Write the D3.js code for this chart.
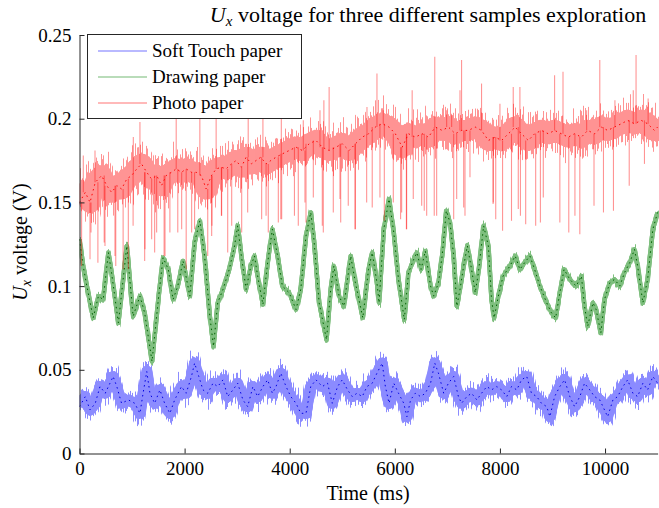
<!DOCTYPE html>
<html>
<head>
<meta charset="utf-8">
<script src="https://cdn.jsdelivr.net/npm/d3@7"></script>
<style>
  body { margin: 0; background: #fff; }
  text { font-family: "Liberation Serif", "DejaVu Serif", serif; }
</style>
</head>
<body>
<div id="chart"></div>
<script>
// ticks
const xTicks = [0, 2000, 4000, 6000, 8000, 10000];
const xTickLabels = ["0", "2000", "4000", "6000", "8000", "10000"];
const yTicks = [0, 0.05, 0.1, 0.15, 0.2, 0.25];
const yTickLabels = ["0", "0.05", "0.1", "0.15", "0.2", "0.25"];

const seriesNames = ["Soft Touch paper", "Drawing paper", "Photo paper"];

// Soft Touch paper (ms / V)
const blueT = [0,110,200,300,390,490,580,640,710,800,930,1050,1150,1210,1280,1340,1430,1530,1620,1720,1810,1940,2030,2130,2190,2270,2350,2440,2540,2630,2730,2820,2920,3010,3110,3200,3300,3390,3490,3580,3670,3740,3830,3930,4020,4120,4210,4310,4400,4500,4620,4720,4810,4910,5000,5100,5190,5280,5380,5470,5570,5660,5760,5820,5890,5980,6070,6170,6230,6300,6390,6490,6580,6680,6760,6830,6930,7020,7120,7210,7270,7370,7460,7560,7650,7750,7840,7940,8030,8130,8220,8320,8410,8510,8600,8700,8790,8890,8950,9040,9140,9230,9330,9420,9520,9610,9710,9800,9900,9990,10050,10150,10240,10340,10430,10530,10620,10720,10810,10910,11000];
const blueV = [0.028,0.034,0.026,0.030,0.040,0.036,0.042,0.046,0.040,0.030,0.032,0.030,0.024,0.036,0.049,0.036,0.030,0.038,0.030,0.024,0.032,0.040,0.036,0.046,0.054,0.046,0.038,0.036,0.042,0.040,0.044,0.034,0.038,0.042,0.032,0.028,0.040,0.034,0.040,0.044,0.036,0.040,0.048,0.040,0.034,0.030,0.024,0.024,0.040,0.044,0.040,0.042,0.030,0.040,0.044,0.038,0.034,0.036,0.034,0.040,0.042,0.048,0.054,0.040,0.030,0.042,0.036,0.030,0.022,0.032,0.036,0.034,0.036,0.042,0.054,0.048,0.036,0.042,0.046,0.034,0.030,0.034,0.036,0.032,0.036,0.040,0.038,0.040,0.038,0.034,0.040,0.038,0.044,0.046,0.036,0.034,0.030,0.028,0.022,0.034,0.040,0.044,0.034,0.028,0.034,0.042,0.038,0.034,0.032,0.026,0.022,0.032,0.034,0.040,0.044,0.036,0.034,0.042,0.038,0.046,0.042];

// Drawing paper
const greenT = [0,70,140,260,360,450,550,610,740,900,1020,1150,1240,1380,1500,1590,1690,1780,1870,1970,2100,2190,2290,2380,2480,2550,2630,2730,2850,2950,3010,3080,3170,3260,3330,3390,3490,3580,3670,3770,3860,3990,4120,4210,4310,4400,4460,4560,4700,4780,4840,4940,5030,5160,5250,5390,5500,5570,5660,5700,5790,5890,5980,6070,6180,6260,6360,6420,6500,6580,6680,6740,6830,6900,6980,7050,7120,7180,7240,7310,7380,7460,7530,7590,7690,7780,7840,7890,7970,8060,8190,8290,8380,8470,8570,8660,8760,8890,8980,9060,9140,9220,9330,9450,9550,9610,9670,9770,9830,9920,9990,10090,10180,10280,10370,10470,10560,10620,10720,10810,10910,11000];
const greenV = [0.128,0.112,0.100,0.081,0.094,0.092,0.120,0.108,0.078,0.124,0.082,0.094,0.084,0.055,0.092,0.117,0.110,0.092,0.100,0.115,0.094,0.126,0.139,0.118,0.082,0.064,0.090,0.098,0.110,0.124,0.136,0.118,0.098,0.112,0.118,0.106,0.089,0.114,0.134,0.118,0.100,0.096,0.086,0.098,0.130,0.144,0.128,0.090,0.068,0.098,0.112,0.094,0.088,0.118,0.102,0.081,0.110,0.120,0.102,0.090,0.134,0.152,0.132,0.104,0.080,0.108,0.116,0.120,0.110,0.121,0.100,0.094,0.102,0.118,0.145,0.138,0.118,0.088,0.098,0.112,0.124,0.110,0.096,0.108,0.136,0.124,0.092,0.081,0.094,0.106,0.112,0.118,0.110,0.114,0.118,0.110,0.100,0.090,0.084,0.081,0.096,0.110,0.104,0.100,0.106,0.088,0.076,0.090,0.086,0.072,0.092,0.102,0.104,0.100,0.108,0.114,0.122,0.112,0.090,0.104,0.134,0.144];

// Photo paper
const redT = [0,110,200,300,420,520,610,710,800,900,990,1090,1180,1280,1370,1470,1560,1650,1750,1840,1940,2030,2130,2220,2320,2410,2510,2600,2700,2790,2890,2980,3080,3170,3270,3360,3450,3550,3640,3740,3860,3990,4120,4240,4370,4500,4620,4750,4880,5000,5130,5250,5380,5500,5630,5760,5890,6010,6140,6260,6390,6520,6640,6770,6900,7020,7150,7270,7400,7530,7650,7780,7910,8030,8160,8290,8410,8540,8660,8790,8920,9040,9170,9300,9420,9550,9670,9800,9930,10050,10180,10310,10430,10560,10690,10810,10940,11000];
const redV = [0.150,0.156,0.150,0.162,0.166,0.160,0.156,0.160,0.158,0.164,0.166,0.170,0.173,0.168,0.164,0.166,0.160,0.166,0.168,0.170,0.168,0.170,0.168,0.168,0.166,0.158,0.166,0.170,0.171,0.170,0.173,0.175,0.171,0.177,0.173,0.175,0.177,0.173,0.175,0.177,0.179,0.181,0.183,0.181,0.185,0.187,0.183,0.181,0.183,0.185,0.181,0.185,0.189,0.191,0.195,0.197,0.195,0.191,0.183,0.191,0.189,0.191,0.189,0.195,0.193,0.195,0.191,0.193,0.193,0.195,0.193,0.187,0.189,0.187,0.191,0.195,0.191,0.187,0.191,0.193,0.191,0.193,0.191,0.189,0.191,0.189,0.193,0.191,0.195,0.193,0.195,0.197,0.199,0.197,0.199,0.197,0.193,0.195];

// Photo paper single-sample spikes
const spikeT = [40,72,200,219,295,350,470,485,675,690,830,929,1020,1024,1150,1240,1246,1373,1430,1468,1610,1627,1720,1840,1870,1944,2030,2134,2190,2290,2440,2515,2520,2600,2700,2705,2820,2896,3086,3200,3210,3466,3490,3550,3592,3783,3830,3840,3847,4090,4163,4258,4290,4310,4449,4576,4620,4639,4650,4750,4829,4956,4970,5114,5242,5250,5464,5470,5570,5660,5717,5780,5800,5971,6110,6130,6220,6225,6330,6351,6511,6560,6606,6750,6760,6796,6986,7081,7120,7177,7240,7270,7310,7335,7430,7650,7870,7873,7920,8000,8050,8220,8253,8349,8380,8390,8490,8680,8770,8825,9040,9140,9200,9310,9427,9520,9650,9790,9900,9970,10160,10188,10460,10537,10590,10750,10820];
const spikeV = [0.112,0.178,0.116,0.132,0.181,0.114,0.126,0.124,0.118,0.112,0.110,0.110,0.136,0.189,0.198,0.115,0.122,0.128,0.120,0.132,0.118,0.118,0.132,0.203,0.132,0.134,0.110,0.132,0.134,0.210,0.118,0.130,0.136,0.208,0.142,0.142,0.120,0.136,0.132,0.144,0.206,0.140,0.204,0.142,0.132,0.138,0.140,0.200,0.140,0.142,0.136,0.199,0.150,0.138,0.153,0.205,0.136,0.132,0.211,0.219,0.144,0.152,0.138,0.148,0.134,0.134,0.150,0.207,0.147,0.227,0.153,0.205,0.139,0.150,0.140,0.144,0.134,0.134,0.217,0.152,0.148,0.145,0.142,0.142,0.237,0.142,0.205,0.202,0.140,0.152,0.217,0.235,0.147,0.142,0.165,0.221,0.149,0.150,0.140,0.209,0.133,0.139,0.219,0.146,0.219,0.142,0.137,0.136,0.138,0.153,0.226,0.138,0.228,0.132,0.142,0.131,0.205,0.148,0.235,0.144,0.145,0.211,0.160,0.217,0.238,0.173,0.212];

const width = 659;
const height = 508;
const margin = { top: 35, right: 1.4, bottom: 54, left: 79.5 };

const svg = d3.select("#chart").append("svg")
  .attr("width", width)
  .attr("height", height);

const x = d3.scaleLinear()
  .domain([0, 11000])
  .range([margin.left, 657.6]);

const y = d3.scaleLinear()
  .domain([0, 0.25])
  .range([453.5, margin.top]);

const defs = svg.append("defs");

defs.append("clipPath")
  .attr("id", "plot-clip")
  .append("rect")
  .attr("x", margin.left)
  .attr("y", 0)
  .attr("width", width - margin.left)
  .attr("height", 453.5);

// streaky edges for the dense noisy traces (vertical jitter per pixel column)
function streakFilter(id, seed, scale) {
  const f = defs.append("filter")
    .attr("id", id)
    .attr("x", "-2%").attr("y", "-80%")
    .attr("width", "104%").attr("height", "260%");
  [seed, seed + 7].forEach((sd, k) => {
    f.append("feTurbulence")
      .attr("type", "fractalNoise")
      .attr("baseFrequency", "0.6 0")
      .attr("numOctaves", 2)
      .attr("seed", sd)
      .attr("result", "n" + k);
    f.append("feColorMatrix")
      .attr("in", "n" + k)
      .attr("type", "matrix")
      .attr("values", "0 0 0 0 0.5  0 1 0 0 0  0 0 1 0 0  0 0 0 0 1")
      .attr("result", "m" + k);
    f.append("feDisplacementMap")
      .attr("in", "SourceGraphic")
      .attr("in2", "m" + k)
      .attr("scale", scale * (k ? 0.8 : 1))
      .attr("xChannelSelector", "R")
      .attr("yChannelSelector", k ? "B" : "G")
      .attr("result", "d" + k);
  });
  const merge = f.append("feMerge");
  ["SourceGraphic", "d0", "d1"].forEach(s => merge.append("feMergeNode").attr("in", s));
}

const plot = svg.append("g").attr("clip-path", "url(#plot-clip)");

const line = d3.line()
  .x(d => x(d[0]))
  .y(d => y(d[1]));

const series = [
  { t: blueT, v: blueV, color: "#0000ff", core: "#0000e0", band: 11, jitter: 38, op: 0.45 },
  { t: greenT, v: greenV, color: "#008000", core: "#006000", band: 4.5, jitter: 13, op: 0.5 },
  { t: redT, v: redV, color: "#ff0000", core: "#ff0000", band: 21, jitter: 70, op: 0.42 }
];

series.forEach((s, i) => {
  const pts = s.t.map((t, k) => [t, s.v[k]]);
  streakFilter("streak" + i, 11 + i * 5, s.jitter);

  // noisy band
  const bandG = plot.append("g")
    .attr("opacity", s.op);
  bandG.append("g")
    .attr("filter", `url(#streak${i})`)
    .append("path")
    .datum(pts)
    .attr("fill", "none")
    .attr("stroke", s.color)
    .attr("stroke-width", s.band)
    .attr("stroke-linejoin", "round")
    .attr("d", line);

  // spikes for photo paper
  if (i === 2) {
    plot.selectAll(".spike")
      .data(spikeT.map((t, k) => [t, spikeV[k]]))
      .enter().append("line")
      .attr("class", "spike")
      .attr("x1", d => x(d[0]))
      .attr("x2", d => x(d[0]))
      .attr("y1", d => y(s.v[d3.minIndex(s.t, t => Math.abs(t - d[0]))]))
      .attr("y2", d => y(d[1]))
      .attr("stroke", s.color)
      .attr("stroke-opacity", 0.42)
      .attr("stroke-width", 1.1);
  }

  // darker core
  plot.append("path")
    .datum(pts)
    .attr("fill", "none")
    .attr("stroke", s.core)
    .attr("stroke-width", 1)
    .attr("stroke-dasharray", "1.5,3.5")
    .attr("d", line);
});

// axes (MATLAB style, ticks inside)
const axisColor = "#262626";

const xAxis = svg.append("g")
  .attr("transform", `translate(0,${y(0)})`)
  .call(d3.axisBottom(x)
    .tickValues(xTicks)
    .tickFormat((d, i) => xTickLabels[i])
    .tickSize(-5)
    .tickSizeOuter(0)
    .tickPadding(8));

const yAxis = svg.append("g")
  .attr("transform", `translate(${margin.left},0)`)
  .call(d3.axisLeft(y)
    .tickValues(yTicks)
    .tickFormat((d, i) => yTickLabels[i])
    .tickSize(-5)
    .tickSizeOuter(0)
    .tickPadding(8));

[xAxis, yAxis].forEach(g => {
  g.select(".domain").attr("stroke", axisColor);
  g.selectAll(".tick line").attr("stroke", axisColor);
  g.selectAll(".tick text")
    .attr("fill", "#000")
    .style("font-size", "19px")
    .style("font-family", "\"Liberation Serif\", serif");
});

// legend
const legend = svg.append("g");
legend.append("rect")
  .attr("x", 87.5)
  .attr("y", 34.5)
  .attr("width", 214)
  .attr("height", 84)
  .attr("fill", "#fff")
  .attr("stroke", axisColor)
  .attr("stroke-width", 1);

seriesNames.forEach((name, i) => {
  const ly = 51 + i * 26;
  legend.append("line")
    .attr("x1", 98).attr("x2", 147)
    .attr("y1", ly).attr("y2", ly)
    .attr("stroke", series[i].color)
    .attr("stroke-opacity", 0.55)
    .attr("stroke-width", 1);
  legend.append("text")
    .attr("x", 152)
    .attr("y", ly + 6)
    .style("font-size", "19px")
    .text(name);
});

// title
const title = svg.append("text")
  .attr("x", 428)
  .attr("y", 22)
  .attr("text-anchor", "middle")
  .style("font-size", "22px");
title.append("tspan").style("font-style", "italic").text("U");
title.append("tspan").style("font-style", "italic").style("font-size", "15px").attr("dy", 4).text("x");
title.append("tspan").attr("dy", -4).text(" voltage for three different samples exploration");

// x label
svg.append("text")
  .attr("x", 368)
  .attr("y", 500)
  .attr("text-anchor", "middle")
  .style("font-size", "20px")
  .text("Time (ms)");

// y label
const yl = svg.append("text")
  .attr("transform", "translate(27,242) rotate(-90)")
  .attr("text-anchor", "middle")
  .style("font-size", "20px");
yl.append("tspan").style("font-style", "italic").text("U");
yl.append("tspan").style("font-style", "italic").style("font-size", "14px").attr("dy", 4).text("x");
yl.append("tspan").attr("dy", -4).text(" voltage (V)");
</script>
</body>
</html>
